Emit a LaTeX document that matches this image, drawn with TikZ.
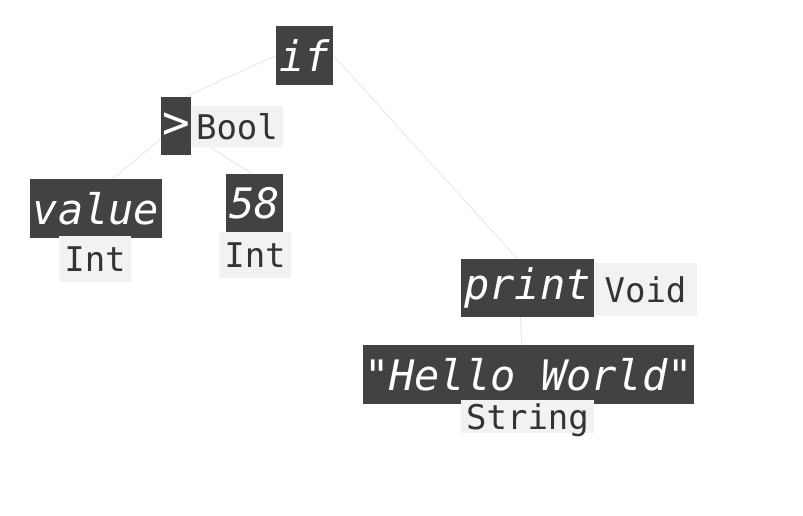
\documentclass[tikz,border=0pt]{standalone}
\usepackage{fontspec}
\setmonofont{DejaVu Sans Mono}
\usetikzlibrary{backgrounds}
\definecolor{darkbox}{HTML}{424242}
\definecolor{lightbox}{HTML}{F2F2F2}
\definecolor{edgecol}{HTML}{E4E4E4}
\definecolor{typetext}{HTML}{333333}
\tikzset{
  term/.style={fill=darkbox, text=white, inner sep=0pt, font=\ttfamily\itshape\fontsize{42}{42}\selectfont},
  typ/.style={fill=lightbox, text=typetext, inner sep=0pt, font=\ttfamily\fontsize{34}{34}\selectfont},
  edge/.style={draw=edgecol, line width=0.8pt}
}
\begin{document}
\begin{tikzpicture}[x=1pt,y=-1pt]
\useasboundingbox (0,0) rectangle (803,515);
\node[term, minimum width=57pt, minimum height=59pt] (if) at (304.5,55.5) {if};
\node[term, minimum width=30pt, minimum height=58pt, font=\ttfamily\fontsize{46}{46}\selectfont] (gt) at (176,126) {>};
\node[typ, minimum width=92pt, minimum height=41pt] (bool) at (237,126.5) {Bool};
\node[term, minimum width=132pt, minimum height=59pt] (value) at (96,208.5) {value};
\node[typ, minimum width=72pt, minimum height=46pt] (valint) at (95,259) {Int};
\node[term, minimum width=57pt, minimum height=58pt] (n58) at (254.5,203) {58};
\node[typ, minimum width=72pt, minimum height=46pt] (int58) at (255,255) {Int};
\node[term, minimum width=133pt, minimum height=58pt] (print) at (527.5,288) {print};
\node[typ, minimum width=103pt, minimum height=53pt] (void) at (645.5,289.5) {Void};
\node[term, minimum width=331pt, minimum height=59pt] (hello) at (528.5,374.5) {"Hello World"};
\node[typ, minimum width=133pt, minimum height=33pt, text depth=0pt] (string) at (527.5,416.5) {String};
\begin{scope}[on background layer]
\draw[edge] (if.west) -- ([xshift=-6pt]gt.north east);
\draw[edge] (if.east) -- ([xshift=-10pt]print.north);
\draw[edge] (gt.center) -- ([xshift=17pt]value.north);
\draw[edge] (gt.center) -- ([xshift=-2pt]n58.north);
\draw[edge] ([xshift=-7pt]print.south) -- ([xshift=-7pt]hello.north);
\end{scope}
\end{tikzpicture}
\end{document}
